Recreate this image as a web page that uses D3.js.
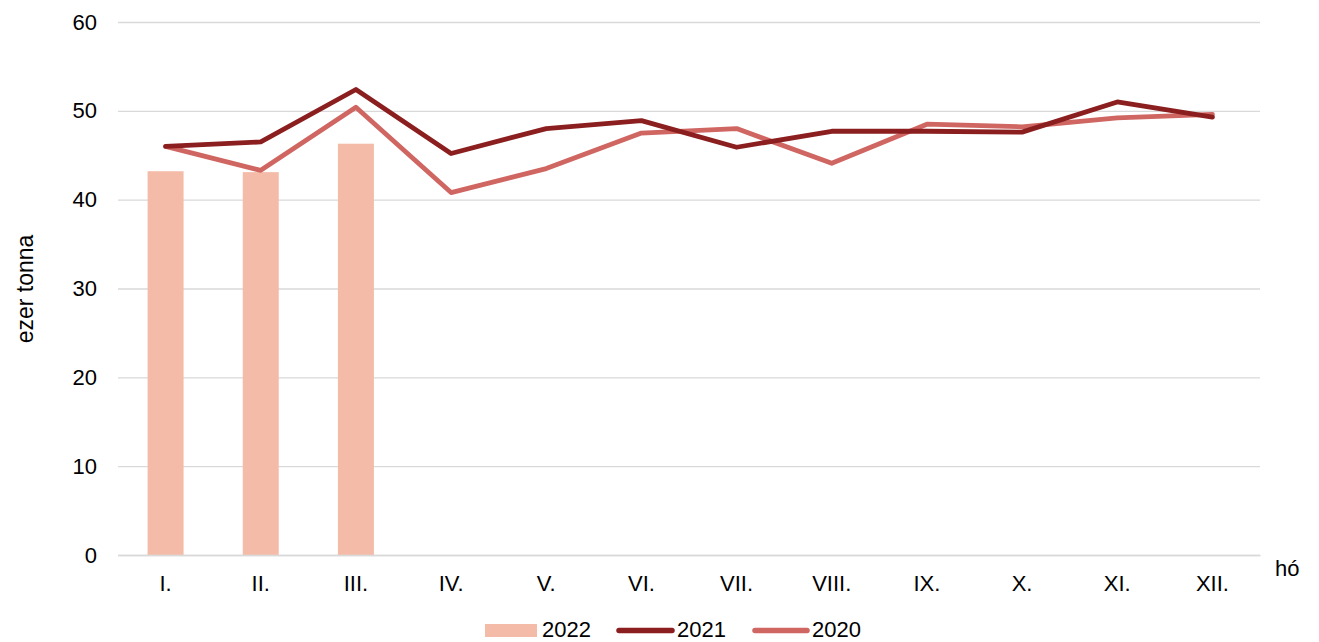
<!DOCTYPE html>
<html>
<head>
<meta charset="utf-8">
<script src="https://cdn.jsdelivr.net/npm/d3@7"></script>
<style>
  body { margin: 0; background: #fff; }
  svg { font-family: "Liberation Sans", Arial, sans-serif; }
</style>
</head>
<body>
<div id="chart"></div>
<script>
// hónapok
var months = ["I.", "II.", "III.", "IV.", "V.", "VI.", "VII.", "VIII.", "IX.", "X.", "XI.", "XII."];
// 2022 (oszlop)
var values2022 = [43.2, 43.1, 46.3];
// 2021 (vonal)
var values2021 = [46.0, 46.5, 52.4, 45.2, 48.0, 48.9, 45.9, 47.7, 47.7, 47.6, 51.0, 49.3];
// 2020 (vonal)
var values2020 = [46.0, 43.3, 50.4, 40.8, 43.5, 47.5, 48.0, 44.1, 48.5, 48.2, 49.2, 49.6];
var yTicks = [0, 10, 20, 30, 40, 50, 60];

var Layout = {
    width: 1319,
    height: 642,
    left: 118,
    right: 1260,
    top: 22,
    bottom: 555
};

var svg = d3.select("#chart").append("svg")
    .attr("width", Layout.width)
    .attr("height", Layout.height);

var x = d3.scaleBand().domain(months).range([Layout.left, Layout.right]);
var y = d3.scaleLinear().domain([0, 60]).range([Layout.bottom, Layout.top]);

// rácsvonalak
var yAxis = svg.append("g")
    .attr("transform", "translate(" + Layout.left + ",0)")
    .call(d3.axisLeft(y).tickValues(yTicks).tickSize(-(Layout.right - Layout.left)).tickPadding(21));
yAxis.select(".domain").remove();
yAxis.selectAll(".tick line").attr("stroke", "#d9d9d9").attr("stroke-width", 1.3);
yAxis.selectAll(".tick text").attr("font-size", "22px").attr("fill", "#000")
    .attr("font-family", "Liberation Sans, Arial, sans-serif");

// oszlopok
svg.append("g").selectAll("rect")
    .data(values2022)
    .enter()
    .append("rect")
    .attr("x", function (d, i) { return x(months[i]) + x.bandwidth() / 2 - 18; })
    .attr("y", function (d) { return y(d); })
    .attr("width", 36)
    .attr("height", function (d) { return y(0) - y(d); })
    .attr("fill", "#f4bca8");

// vonalak
var line = d3.line()
    .x(function (d, i) { return x(months[i]) + x.bandwidth() / 2; })
    .y(function (d) { return y(d); });

svg.append("path")
    .datum(values2020)
    .attr("d", line)
    .attr("fill", "none")
    .attr("stroke", "#cf6662")
    .attr("stroke-width", 4.8)
    .attr("stroke-linejoin", "round")
    .attr("stroke-linecap", "round");

svg.append("path")
    .datum(values2021)
    .attr("d", line)
    .attr("fill", "none")
    .attr("stroke", "#8b1e1e")
    .attr("stroke-width", 4.8)
    .attr("stroke-linejoin", "round")
    .attr("stroke-linecap", "round");

// x tengely
var xAxis = svg.append("g")
    .attr("transform", "translate(0," + Layout.bottom + ")")
    .call(d3.axisBottom(x).tickSize(0).tickPadding(20));
xAxis.select(".domain").attr("stroke", "#d9d9d9").attr("stroke-width", 1.3);
xAxis.selectAll(".tick text").attr("font-size", "22px").attr("fill", "#000")
    .attr("font-family", "Liberation Sans, Arial, sans-serif");

// tengelycímek
svg.append("text")
    .attr("transform", "translate(33,289) rotate(-90)")
    .attr("text-anchor", "middle")
    .attr("font-size", "23px")
    .text("ezer tonna");

svg.append("text")
    .attr("x", 1275)
    .attr("y", 576)
    .attr("font-size", "22px")
    .text("hó");

// jelmagyarázat
var legend = svg.append("g").attr("font-size", "22px");
legend.append("rect")
    .attr("x", 485).attr("y", 624).attr("width", 52).attr("height", 13)
    .attr("fill", "#f4bca8");
legend.append("text").attr("x", 542).attr("y", 637).text("2022");

legend.append("line")
    .attr("x1", 619).attr("x2", 672).attr("y1", 630.5).attr("y2", 630.5)
    .attr("stroke", "#8b1e1e").attr("stroke-width", 5.5).attr("stroke-linecap", "round");
legend.append("text").attr("x", 677).attr("y", 637).text("2021");

legend.append("line")
    .attr("x1", 755).attr("x2", 807).attr("y1", 630.5).attr("y2", 630.5)
    .attr("stroke", "#cf6662").attr("stroke-width", 5.5).attr("stroke-linecap", "round");
legend.append("text").attr("x", 812).attr("y", 637).text("2020");
</script>
</body>
</html>
